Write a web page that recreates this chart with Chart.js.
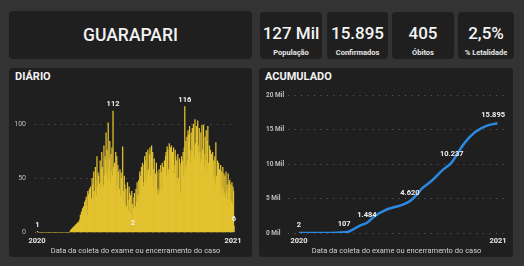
<!DOCTYPE html>
<html><head><meta charset="utf-8">
<script src="https://cdn.jsdelivr.net/npm/chart.js@4"></script>
<style>
html,body{margin:0;padding:0;background:#333333;width:524px;height:266px;overflow:hidden;font-family:Roboto,"DejaVu Sans",sans-serif;}
.panel{position:absolute;background:#1f1f1f;border-radius:4px;}
.title{color:#f2f2f2;font-weight:500;font-size:17.5px;text-align:center;line-height:48px;}
.kv{position:absolute;left:0;right:0;top:12px;text-align:center;color:#f4f4f4;font-size:17px;font-weight:500;line-height:18px;}
.kl{position:absolute;left:0;right:0;top:36px;text-align:center;color:#e6e6e6;font-size:7.5px;font-weight:700;line-height:9px;}
.ptitle{position:absolute;color:#f2f2f2;font-size:11px;font-weight:700;}
canvas{position:absolute;}
</style></head>
<body>
<div class="panel title" style="left:9px;top:11px;width:243px;height:48px;">GUARAPARI</div>
<div class="panel" id="c1" style="left:260px;top:12px;width:62px;height:47px;"></div>
<div class="panel" id="c2" style="left:327px;top:12px;width:61px;height:47px;"></div>
<div class="panel" id="c3" style="left:392px;top:12px;width:62px;height:47px;"></div>
<div class="panel" id="c4" style="left:458px;top:12px;width:56px;height:47px;"></div>
<div class="panel" style="left:9px;top:68px;width:243px;height:189px;"></div>
<div class="panel" style="left:259px;top:68px;width:254px;height:189px;"></div>
<div class="ptitle" style="left:15px;top:70px;">DIÁRIO</div>
<div class="ptitle" style="left:265px;top:70px;">ACUMULADO</div>
<canvas id="daily" width="243" height="189" style="left:9px;top:68px;"></canvas>
<canvas id="cum" width="254" height="189" style="left:259px;top:68px;"></canvas>
<script>
// KPI cards
const kpiValues = ['127 Mil', '15.895', '405', '2,5%'];
const kpiLabels = ['População', 'Confirmados', 'Óbitos', '% Letalidade'];

// Daily chart (day index from 2020-01-01)
const dailyFirstDay = 1;
const dailyCases = [
  1,
  0,0,0,0,0,0,0,0,0,0, 0,0,0,0,0,0,0,0,0,0, 0,0,0,0,0,0,0,0,0,0,
  0,0,0,0,0,0,0,0,0,0, 0,0,0,0,0,0,0,0,0,0, 0,0,0,0,0,0,0,0,
  0,0,1,2,3,2,4,3,5,4, 6,5,7,6,8,7,9,8,10,9,
  12,16,14,19,11,22,18,24,17,28,
  19,30,33,24,16,38,35,26,40,25,
  42,29,31,50,44,33,56,38,31,60,
  48,34,70,42,55,52,36,45,66,40,
  58,74,60,44,42,80,52,70,66,92,
  54,76,48,101,58,68,84,46,72,56,
  78,52,112,60,42,64,58,74,38,70,
  44,62,56,36,40,58,34,55,50,32,
  79,38,30,52,44,26,40,24,22,46,
  30,20,42,36,18,34,16,38,26,2,
  22,32,36,20,24,40,28,46,34,28,
  48,34,56,52,36,60,40,64,46,42,
  62,70,66,46,74,56,50,76,58,44,
  72,78,52,70,80,48,74,58,42,68,
  50,54,38,64,56,36,40,34,58,38,
  54,62,40,56,64,38,60,44,66,46,
  70,74,52,79,76,58,54,82,60,78,
  56,80,58,74,52,78,62,54,76,70,
  50,66,44,72,50,40,68,64,36,62,
  70,48,66,74,52,78,116,58,84,62,
  88,66,94,90,70,98,76,64,92,72,
  96,74,100,80,68,104,82,72,98,76,
  103,80,70,96,74,64,92,68,99,76,
  62,99,72,60,88,66,94,56,84,98,
  64,58,80,52,76,54,72,48,74,52,
  66,50,70,44,83,52,42,66,46,64,
  40,58,38,62,42,56,34,60,40,54,
  36,52,32,56,38,44,30,54,40,46,
  48,30,44,28,46,26,42,38,6
];
const dailyLabelDays = [1, 142, 179, 276, 368];
const dailyYTicks = [0, 50, 100];
const dailyYTickLabels = ['0', '50', '100'];

// Cumulative chart
const cumDays = [0, 40, 70, 83, 91, 103, 113, 125, 140, 158, 176, 191, 204, 216, 226, 244, 263, 281, 293, 305, 324, 347, 365];
const cumCases = [2, 10, 40, 107, 190, 670, 1100, 1484, 2500, 3290, 3760, 4100, 4620, 5500, 6430, 7570, 9050, 10237, 11700, 13100, 14650, 15600, 15895];
const cumLabelDays = [0, 83, 125, 204, 281, 365];
const cumYTicks = [0, 5000, 10000, 15000, 20000];
const cumYTickLabels = ['0 Mil', '5 Mil', '10 Mil', '15 Mil', '20 Mil'];

// X axis ticks (shared)
const xTickDays = [0, 366];
const xTickLabels = ['2020', '2021'];
const xTitle = 'Data da coleta do exame ou encerramento do caso';

['c1','c2','c3','c4'].forEach((id, i) => {
  const el = document.getElementById(id);
  el.innerHTML = '<div class="kv">' + kpiValues[i] + '</div><div class="kl">' + kpiLabels[i] + '</div>';
});

const FONT = 'Roboto, "DejaVu Sans", sans-serif';
const fmt = v => v.toLocaleString('pt-BR');

const labelPlugin = {
  id: 'pointLabels',
  afterDatasetsDraw(chart, args, opts) {
    const ctx = chart.ctx;
    const meta = chart.getDatasetMeta(0);
    const ds = chart.data.datasets[0].data;
    ctx.save();
    ctx.font = 'bold 7.5px ' + FONT;
    ctx.fillStyle = '#f0f0f0';
    ctx.textAlign = 'center';
    ctx.textBaseline = 'bottom';
    opts.days.forEach(d => {
      const idx = ds.findIndex(p => p.x === d);
      if (idx < 0) return;
      const el = meta.data[idx];
      const txt = fmt(ds[idx].y);
      const w = ctx.measureText(txt).width;
      let x = el.x;
      const maxX = chart.chartArea.right - w / 2;
      if (x > maxX) x = maxX;
      ctx.fillText(txt, x, el.y - opts.gap);
    });
    ctx.restore();
  }
};

const gridStyle = {color: '#5e5e5e', lineWidth: 1, drawTicks: false};
const gridBorder = {display: false, dash: [1, 5.5]};

new Chart(document.getElementById('daily'), {
  type: 'bar',
  data: {
    datasets: [{
      data: dailyCases.map((v, i) => ({x: dailyFirstDay + i, y: v})),
      backgroundColor: '#e3c230',
      borderWidth: 0,
      barThickness: 0.6,
      grouped: false
    }]
  },
  options: {
    responsive: false,
    animation: false,
    layout: {padding: {top: 23.5, right: 16, left: 0, bottom: 0}},
    plugins: {legend: {display: false}, tooltip: {enabled: false}, pointLabels: {days: dailyLabelDays, gap: 3}},
    scales: {
      x: {
        type: 'linear', offset: false, min: -3.7, max: 371.6,
        grid: {display: false, drawTicks: false}, border: {display: false},
        afterBuildTicks: s => { s.ticks = xTickDays.map(v => ({value: v})); },
        afterFit: s => { s.height = 24.5; },
        ticks: {autoSkip: false, maxRotation: 0, padding: 4, color: '#e8e8e8', font: {family: FONT, size: 7.5, weight: 'bold'},
          callback: v => xTickLabels[xTickDays.indexOf(v)]},
        title: {display: true, text: xTitle, color: '#d0d0d0', font: {family: FONT, size: 7.5}, padding: {top: 0, bottom: 1}}
      },
      y: {
        min: 0, max: 130,
        grid: gridStyle, border: gridBorder,
        afterBuildTicks: s => { s.ticks = dailyYTicks.map(v => ({value: v})); },
        afterFit: s => { s.width = 26; },
        ticks: {padding: 9, color: '#bdbdbd', font: {family: FONT, size: 7},
          callback: v => dailyYTickLabels[dailyYTicks.indexOf(v)]}
      }
    }
  },
  plugins: [labelPlugin]
});

new Chart(document.getElementById('cum'), {
  type: 'line',
  data: {
    datasets: [{
      data: cumDays.map((d, i) => ({x: d, y: cumCases[i]})),
      borderColor: '#2b88e0',
      borderWidth: 2.5,
      pointRadius: 0,
      cubicInterpolationMode: 'monotone',
      fill: false
    }]
  },
  options: {
    responsive: false,
    animation: false,
    layout: {padding: {top: 27, right: 8, left: 7, bottom: 0}},
    plugins: {legend: {display: false}, tooltip: {enabled: false}, pointLabels: {days: cumLabelDays, gap: 4}},
    scales: {
      x: {
        type: 'linear', min: -20.2, max: 378.9,
        grid: {display: false, drawTicks: false}, border: {display: false},
        afterBuildTicks: s => { s.ticks = xTickDays.map(v => ({value: v})); },
        afterFit: s => { s.height = 24; },
        ticks: {autoSkip: false, maxRotation: 0, padding: 4, color: '#e8e8e8', font: {family: FONT, size: 7.5, weight: 'bold'},
          callback: v => xTickLabels[xTickDays.indexOf(v)]},
        title: {display: true, text: xTitle, color: '#d0d0d0', font: {family: FONT, size: 7.5}, padding: {top: 0, bottom: 1}}
      },
      y: {
        min: 0, max: 20000,
        grid: gridStyle, border: gridBorder,
        afterBuildTicks: s => { s.ticks = cumYTicks.map(v => ({value: v})); },
        afterFit: s => { s.width = 22; },
        ticks: {crossAlign: 'far', padding: 4, color: '#bdbdbd', font: {family: FONT, size: 6.5, weight: 'bold'},
          callback: v => cumYTickLabels[cumYTicks.indexOf(v)]}
      }
    }
  },
  plugins: [labelPlugin]
});
</script>
</body></html>
